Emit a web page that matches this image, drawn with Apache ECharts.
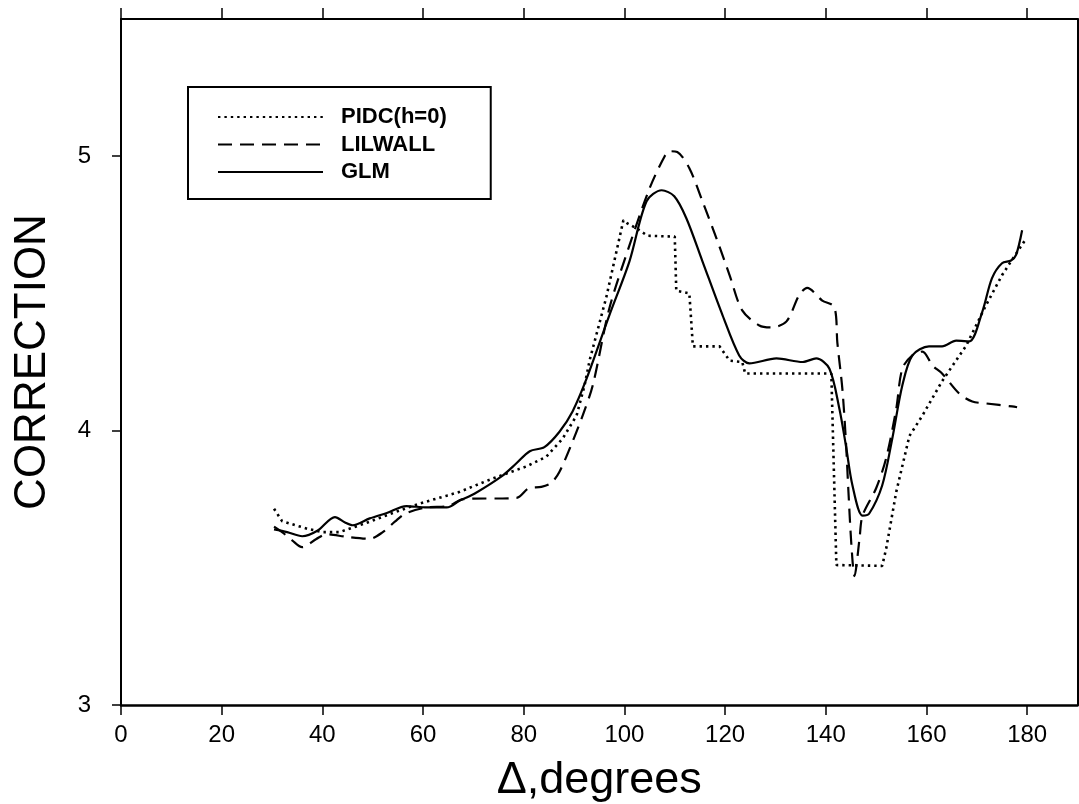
<!DOCTYPE html>
<html>
<head>
<meta charset="utf-8">
<script src="https://cdn.jsdelivr.net/npm/echarts@6/dist/echarts.min.js"></script>
<style>
html,body{margin:0;padding:0;background:#fff;}
#chart{width:1079px;height:804px;}
</style>
</head>
<body>
<div id="chart"></div>
<script>
// Tick labels
var xTicks = [0, 20, 40, 60, 80, 100, 120, 140, 160, 180];
var yTicks = [3, 4, 5];

// Series names
var seriesNames = ['PIDC(h=0)', 'LILWALL', 'GLM'];

// PIDC(h=0) — dotted, stepped
var pidc = [
  [30.4,3.715],[32,3.67],[35,3.653],[37.1,3.642],[40,3.63],[43.4,3.63],[46,3.646],
  [49.4,3.668],[54,3.70],[59.3,3.734],[64.7,3.763],[67.3,3.777],[71.2,3.806],
  [73.8,3.825],[80.6,3.87],[84.5,3.905],[87.7,3.97],[90.5,4.055],[92.1,4.166],
  [93.1,4.257],[96.4,4.486],[99.8,4.767],[100.6,4.755],[102.4,4.737],[104.6,4.71],
  [110,4.707],[110.3,4.51],[112.9,4.50],[113.6,4.307],[118.9,4.307],[120.9,4.255],
  [123.4,4.25],[124,4.208],[141.1,4.208],[142.1,3.51],[151.2,3.507],[152,3.57],
  [154,3.777],[156.6,3.98],[159.2,4.055],[163.1,4.18],[167.9,4.31],[171.8,4.456],
  [175,4.566],[176.8,4.617],[179.8,4.70]
];

// LILWALL — dashed
var lilwall = [
  [30.4,3.65],[32,3.63],[34,3.60],[36,3.575],[38.8,3.605],[40.8,3.622],[44.8,3.613],
  [49.4,3.606],[52,3.63],[54.4,3.668],[56.4,3.697],[60.7,3.72],[65,3.725],[68,3.75],
  [78.6,3.755],[81,3.79],[83.5,3.795],[85.5,3.81],[87.1,3.85],[89.7,3.96],[91.7,4.055],
  [93.7,4.164],[97,4.445],[101,4.675],[105,4.883],[108,5.00],[109,5.018],[110.5,5.015],
  [112.9,4.956],[115.5,4.836],[118.3,4.70],[120.9,4.566],[123.4,4.438],[126.8,4.383],
  [129.2,4.376],[132.2,4.398],[134.7,4.493],[136.3,4.52],[139.3,4.474],[141.7,4.45],
  [142.3,4.32],[143.3,4.15],[144,3.96],[144.5,3.777],[145.1,3.58],[145.7,3.47],
  [146.7,3.606],[147.3,3.69],[150,3.79],[152,3.90],[154,4.08],[155.2,4.226],
  [157.2,4.274],[159.2,4.288],[161.2,4.237],[163.1,4.208],[166.5,4.135],[169.1,4.106],
  [171.8,4.099],[177,4.088],[178,4.085]
];

// GLM — solid
var glm = [
  [30.4,3.64],[33,3.63],[36,3.615],[39,3.635],[42.5,3.685],[44.5,3.665],[46,3.655],
  [49.4,3.68],[52.8,3.70],[56.7,3.725],[60.7,3.72],[64.7,3.72],[67.3,3.745],[70.2,3.77],
  [75.8,3.836],[78.5,3.88],[81.2,3.925],[84.1,3.94],[87.1,3.996],[89.7,4.07],[92.5,4.19],
  [97,4.42],[101,4.617],[104.4,4.836],[107.4,4.876],[109.9,4.854],[112.3,4.774],
  [115.5,4.617],[119.5,4.42],[122.8,4.274],[124.8,4.245],[130.2,4.263],[135.4,4.25],
  [138.1,4.263],[140.7,4.226],[142.7,4.08],[144,3.945],[145.3,3.80],[147.3,3.69],
  [148.6,3.697],[151.2,3.80],[153.2,3.97],[155.2,4.164],[157.2,4.274],[160.5,4.307],
  [163.1,4.307],[165.9,4.328],[168.5,4.325],[171.1,4.434],[173,4.555],[175,4.61],
  [176.8,4.62],[177.8,4.64],[179,4.73]
];

var FONT = '"Liberation Sans", Arial, Helvetica, sans-serif';
var chart = echarts.init(document.getElementById('chart'), null, {renderer: 'canvas'});

var axisLineStyle = {color: '#000', width: 2};

chart.setOption({
  backgroundColor: '#fff',
  animation: false,
  grid: {left: 121, right: 1.5, top: 19, bottom: 99, containLabel: false, outerBoundsMode: 'none'},
  legend: {
    orient: 'vertical',
    left: 188,
    top: 87,
    data: seriesNames,
    itemWidth: 105,
    itemHeight: 22,
    itemGap: 5.5,
    padding: [19, 44, 16, 29],
    borderColor: '#000',
    borderWidth: 2,
    borderRadius: 0,
    backgroundColor: '#fff',
    itemStyle: {opacity: 0, color: 'rgba(0,0,0,0)', borderWidth: 0},
    textStyle: {
      fontFamily: FONT, fontSize: 22, fontWeight: 'bold', color: '#000',
      lineHeight: 22, padding: [0, 0, 0, 13]
    }
  },
  xAxis: [{
    type: 'value', min: 0, max: 190, position: 'bottom',
    name: 'Δ,degrees', nameLocation: 'middle', nameGap: 53,
    nameTextStyle: {fontFamily: FONT, fontSize: 45, color: '#000'},
    axisLine: {show: true, onZero: false, lineStyle: {color: '#000', width: 2.5}},
    axisTick: {show: true, inside: false, length: 10, customValues: xTicks, lineStyle: {color: '#000', width: 1.5}},
    axisLabel: {show: true, customValues: xTicks, margin: 18, fontFamily: FONT, fontSize: 24, color: '#000'},
    splitLine: {show: false}
  }, {
    type: 'value', min: 0, max: 190, position: 'top',
    axisLine: {show: true, onZero: false, lineStyle: axisLineStyle},
    axisTick: {show: true, inside: false, length: 11, customValues: xTicks, lineStyle: {color: '#000', width: 1.5}},
    axisLabel: {show: false},
    splitLine: {show: false}
  }],
  yAxis: [{
    type: 'value', min: 3, max: 5.5, position: 'left',
    name: 'CORRECTION', nameLocation: 'middle', nameGap: 66, nameRotate: 90,
    nameTextStyle: {fontFamily: FONT, fontSize: 44, color: '#000'},
    axisLine: {show: true, onZero: false, lineStyle: axisLineStyle},
    axisTick: {show: true, inside: false, length: 9, customValues: yTicks, lineStyle: {color: '#000', width: 1.5}},
    axisLabel: {show: true, customValues: yTicks, margin: 30, fontFamily: FONT, fontSize: 24, color: '#000'},
    splitLine: {show: false}
  }, {
    type: 'value', min: 3, max: 5.5, position: 'right',
    axisLine: {show: true, onZero: false, lineStyle: axisLineStyle},
    axisTick: {show: false},
    axisLabel: {show: false},
    splitLine: {show: false}
  }],
  series: [{
    name: seriesNames[0], type: 'line', data: pidc, symbol: 'none', smooth: false,
    xAxisIndex: 0, yAxisIndex: 0,
    lineStyle: {color: '#000', width: 2.6, type: [2.4, 4], cap: 'butt'},
    itemStyle: {color: '#000'}
  }, {
    name: seriesNames[1], type: 'line', data: lilwall, symbol: 'none', smooth: 0.3,
    xAxisIndex: 0, yAxisIndex: 0,
    lineStyle: {color: '#000', width: 2.2, type: [14, 8]},
    itemStyle: {color: '#000'}
  }, {
    name: seriesNames[2], type: 'line', data: glm, symbol: 'none', smooth: 0.3,
    xAxisIndex: 0, yAxisIndex: 0,
    lineStyle: {color: '#000', width: 2.2, type: 'solid'},
    itemStyle: {color: '#000'}
  }]
});
</script>
</body>
</html>
